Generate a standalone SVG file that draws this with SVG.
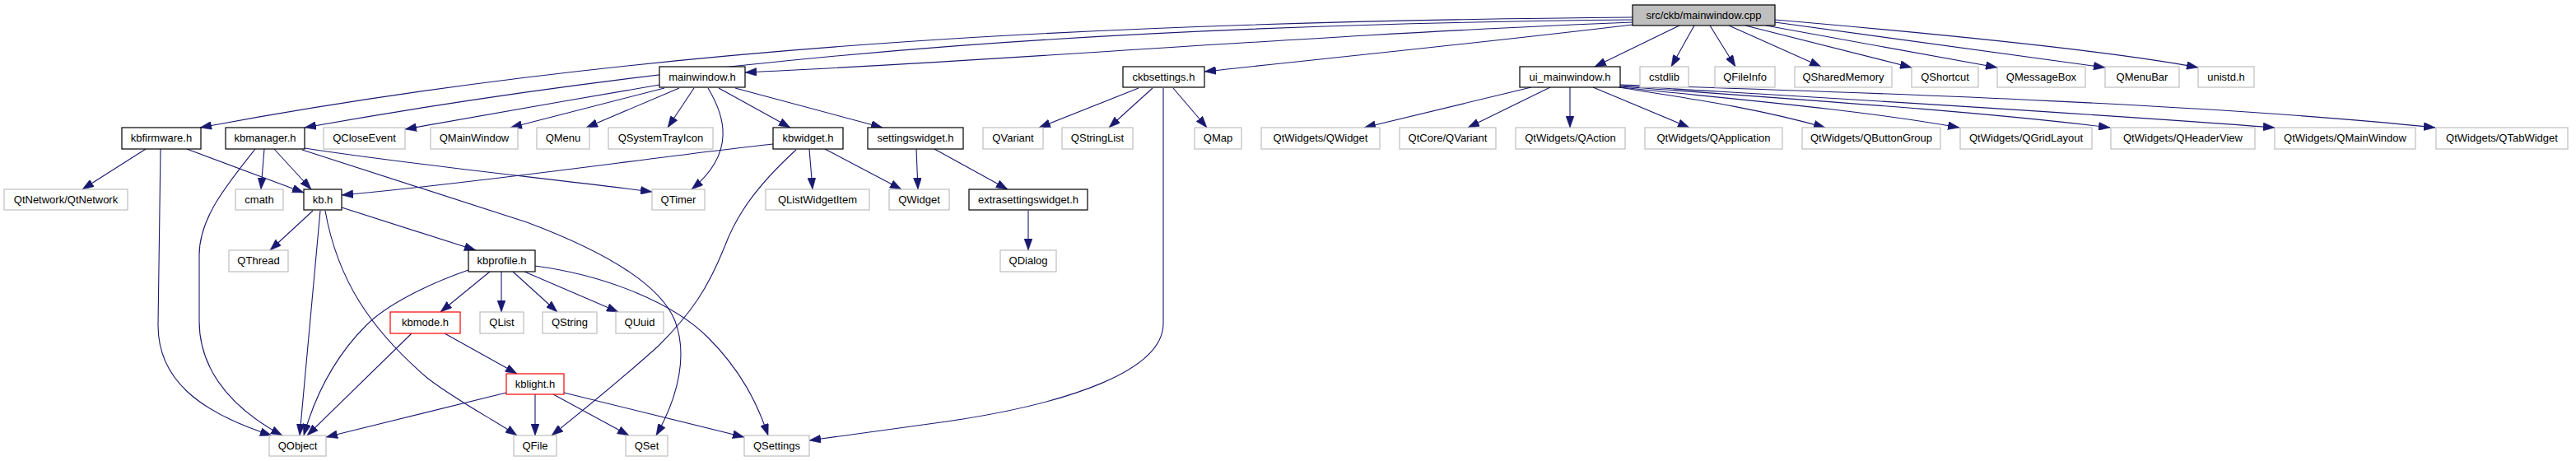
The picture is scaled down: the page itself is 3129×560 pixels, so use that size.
<svg xmlns="http://www.w3.org/2000/svg" width="3129" height="560" viewBox="0 0 3129 560">
<style>
.e{fill:none;stroke:#191970;stroke-width:1.1;marker-end:url(#ah)}
.n rect{fill:#fff;stroke:#000;stroke-width:1.2}
.g rect{fill:#fff;stroke:#bfbfbf;stroke-width:1.2}
.r rect{fill:#fff;stroke:#ff0000;stroke-width:1.2}
.root rect{fill:#bfbfbf;stroke:#000;stroke-width:1.2}
text{font-family:"Liberation Sans",Arial,Helvetica,sans-serif;font-size:13px;fill:#000;text-anchor:middle}
</style>
<defs>
<marker id="ah" markerUnits="userSpaceOnUse" markerWidth="14" markerHeight="10" viewBox="0 0 14 10" refX="14" refY="5" orient="auto">
<path d="M0,0 L14,5 L0,10 z" fill="#191970" stroke="#191970" stroke-width="0.5"/>
</marker>
</defs>
<rect x="0" y="0" width="3129" height="560" fill="#fff"/>
<g id="edges">
<path class="e" d="M1983,21 C1400,26 800,50 243,155"/>
<path class="e" d="M1983,24 C1400,30 900,60 370,155"/>
<path class="e" d="M1983,27 C1600,42 1200,75 905,88"/>
<path class="e" d="M1983,30 C1800,52 1600,72 1463,87"/>
<path class="e" d="M2040,31 L1937,81"/>
<path class="e" d="M2058,31 L2030,81"/>
<path class="e" d="M2077,31 L2108,81"/>
<path class="e" d="M2100,31 L2212,81"/>
<path class="e" d="M2120,31 L2322,82"/>
<path class="e" d="M2145,31 L2426,82"/>
<path class="e" d="M2156,27 L2557,82"/>
<path class="e" d="M2156,24 C2400,45 2580,65 2670,82"/>
<path class="e" d="M1860,106 L1657,155"/>
<path class="e" d="M1883,106 L1783,155"/>
<path class="e" d="M1907,106 L1907,155"/>
<path class="e" d="M1935,106 L2052,155"/>
<path class="e" d="M1966,106 C2040,118 2130,130 2217,155"/>
<path class="e" d="M1968,106 C2100,120 2250,132 2380,155"/>
<path class="e" d="M1968,105 C2200,122 2400,135 2563,155"/>
<path class="e" d="M1968,104 C2200,118 2500,135 2763,155"/>
<path class="e" d="M1968,103 C2300,113 2700,128 2958,155"/>
<path class="e" d="M801,103 C700,120 560,145 492,157"/>
<path class="e" d="M807,107 L620,155"/>
<path class="e" d="M825,107 L712,155"/>
<path class="e" d="M843,107 L811,155"/>
<path class="e" d="M860,107 C880,140 895,185 840,230"/>
<path class="e" d="M873,107 L960,155"/>
<path class="e" d="M893,107 L1072,155"/>
<path class="e" d="M939,175 C800,190 600,220 415,237"/>
<path class="e" d="M983,181 L987,230"/>
<path class="e" d="M1002,181 L1095,230"/>
<path class="e" d="M967,182 C920,225 895,260 880,300 C860,350 840,380 800,420 C750,465 700,505 670,529"/>
<path class="e" d="M1113,181 L1115,230"/>
<path class="e" d="M1135,181 L1224,230"/>
<path class="e" d="M1249,256 L1249,304"/>
<path class="e" d="M1383,107 L1262,155"/>
<path class="e" d="M1400,107 L1347,155"/>
<path class="e" d="M1425,107 L1466,155"/>
<path class="e" d="M1413,107 L1413,393 C1413,450 1300,490 1150,512 C1080,522 1020,530 983,535"/>
<path class="e" d="M177,181 L100,230"/>
<path class="e" d="M195,181 L192,395 C192,460 240,500 330,529"/>
<path class="e" d="M227,181 L369,234"/>
<path class="e" d="M321,181 L317,230"/>
<path class="e" d="M333,181 L378,230"/>
<path class="e" d="M310,181 C275,225 242,265 242,310 L242,390 C242,440 270,490 343,529"/>
<path class="e" d="M370,180 C500,200 650,215 792,233"/>
<path class="e" d="M367,182 L640,270 C720,300 800,340 820,390 C835,430 825,480 797,529"/>
<path class="e" d="M380,256 L328,304"/>
<path class="e" d="M389,256 L364,529"/>
<path class="e" d="M395,256 C410,340 450,400 520,460 C560,490 600,510 628,529"/>
<path class="e" d="M415,252 L578,304"/>
<path class="e" d="M569,328 C520,345 470,370 445,395 C400,440 380,490 369,529"/>
<path class="e" d="M595,330 L535,379"/>
<path class="e" d="M609,330 L609,379"/>
<path class="e" d="M623,330 L677,379"/>
<path class="e" d="M637,330 L751,379"/>
<path class="e" d="M650,323 C740,335 820,370 860,410 C900,450 920,490 933,529"/>
<path class="e" d="M540,405 L628,454"/>
<path class="e" d="M500,405 L373,529"/>
<path class="e" d="M615,477 L396,531"/>
<path class="e" d="M650,479 L650,529"/>
<path class="e" d="M672,479 L764,529"/>
<path class="e" d="M685,477 L904,531"/>
</g>
<g id="n_root" class="root"><rect x="1983" y="6" width="173" height="25"/><text x="2069.5" y="22.5">src/ckb/mainwindow.cpp</text></g>
<g id="n_mainwindow_h" class="n"><rect x="801" y="81" width="104" height="25"/><text x="853" y="97.5">mainwindow.h</text></g>
<g id="n_ckbsettings_h" class="n"><rect x="1364" y="81" width="99" height="25"/><text x="1413.5" y="97.5">ckbsettings.h</text></g>
<g id="n_ui_mainwindow_h" class="n"><rect x="1846" y="81" width="122" height="25"/><text x="1907" y="97.5">ui_mainwindow.h</text></g>
<g id="n_cstdlib" class="g"><rect x="1992" y="81" width="59" height="25"/><text x="2021.5" y="97.5">cstdlib</text></g>
<g id="n_QFileInfo" class="g"><rect x="2083" y="81" width="73" height="25"/><text x="2119.5" y="97.5">QFileInfo</text></g>
<g id="n_QSharedMemory" class="g"><rect x="2180" y="81" width="118" height="25"/><text x="2239" y="97.5">QSharedMemory</text></g>
<g id="n_QShortcut" class="g"><rect x="2322" y="81" width="81" height="25"/><text x="2362.5" y="97.5">QShortcut</text></g>
<g id="n_QMessageBox" class="g"><rect x="2426" y="81" width="107" height="25"/><text x="2479.5" y="97.5">QMessageBox</text></g>
<g id="n_QMenuBar" class="g"><rect x="2557" y="81" width="90" height="25"/><text x="2602" y="97.5">QMenuBar</text></g>
<g id="n_unistd_h" class="g"><rect x="2670" y="81" width="68" height="25"/><text x="2704" y="97.5">unistd.h</text></g>
<g id="n_kbfirmware_h" class="n"><rect x="148" y="155" width="96" height="26"/><text x="196" y="172">kbfirmware.h</text></g>
<g id="n_kbmanager_h" class="n"><rect x="274" y="155" width="96" height="26"/><text x="322" y="172">kbmanager.h</text></g>
<g id="n_QCloseEvent" class="g"><rect x="393" y="155" width="99" height="26"/><text x="442.5" y="172">QCloseEvent</text></g>
<g id="n_QMainWindow" class="g"><rect x="523" y="155" width="106" height="26"/><text x="576" y="172">QMainWindow</text></g>
<g id="n_QMenu" class="g"><rect x="652" y="155" width="64" height="26"/><text x="684" y="172">QMenu</text></g>
<g id="n_QSystemTrayIcon" class="g"><rect x="739" y="155" width="127" height="26"/><text x="802.5" y="172">QSystemTrayIcon</text></g>
<g id="n_kbwidget_h" class="n"><rect x="939" y="155" width="85" height="26"/><text x="981.5" y="172">kbwidget.h</text></g>
<g id="n_settingswidget_h" class="n"><rect x="1054" y="155" width="116" height="26"/><text x="1112" y="172">settingswidget.h</text></g>
<g id="n_QVariant" class="g"><rect x="1194" y="155" width="73" height="26"/><text x="1230.5" y="172">QVariant</text></g>
<g id="n_QStringList" class="g"><rect x="1290" y="155" width="86" height="26"/><text x="1333" y="172">QStringList</text></g>
<g id="n_QMap" class="g"><rect x="1451" y="155" width="57" height="26"/><text x="1479.5" y="172">QMap</text></g>
<g id="n_QtWidgets_QWidget" class="g"><rect x="1532" y="155" width="144" height="26"/><text x="1604" y="172">QtWidgets/QWidget</text></g>
<g id="n_QtCore_QVariant" class="g"><rect x="1700" y="155" width="117" height="26"/><text x="1758.5" y="172">QtCore/QVariant</text></g>
<g id="n_QtWidgets_QAction" class="g"><rect x="1841" y="155" width="133" height="26"/><text x="1907.5" y="172">QtWidgets/QAction</text></g>
<g id="n_QtWidgets_QApplication" class="g"><rect x="1998" y="155" width="167" height="26"/><text x="2081.5" y="172">QtWidgets/QApplication</text></g>
<g id="n_QtWidgets_QButtonGroup" class="g"><rect x="2189" y="155" width="168" height="26"/><text x="2273" y="172">QtWidgets/QButtonGroup</text></g>
<g id="n_QtWidgets_QGridLayout" class="g"><rect x="2381" y="155" width="160" height="26"/><text x="2461" y="172">QtWidgets/QGridLayout</text></g>
<g id="n_QtWidgets_QHeaderView" class="g"><rect x="2564" y="155" width="175" height="26"/><text x="2651.5" y="172">QtWidgets/QHeaderView</text></g>
<g id="n_QtWidgets_QMainWindow" class="g"><rect x="2763" y="155" width="171" height="26"/><text x="2848.5" y="172">QtWidgets/QMainWindow</text></g>
<g id="n_QtWidgets_QTabWidget" class="g"><rect x="2959" y="155" width="160" height="26"/><text x="3039" y="172">QtWidgets/QTabWidget</text></g>
<g id="n_QtNetwork" class="g"><rect x="5" y="230" width="150" height="25"/><text x="80" y="246.5">QtNetwork/QtNetwork</text></g>
<g id="n_cmath" class="g"><rect x="286" y="230" width="58" height="25"/><text x="315" y="246.5">cmath</text></g>
<g id="n_kb_h" class="n"><rect x="369" y="230" width="46" height="25"/><text x="392" y="246.5">kb.h</text></g>
<g id="n_QTimer" class="g"><rect x="792" y="230" width="64" height="25"/><text x="824" y="246.5">QTimer</text></g>
<g id="n_QListWidgetItem" class="g"><rect x="930" y="230" width="126" height="25"/><text x="993" y="246.5">QListWidgetItem</text></g>
<g id="n_QWidget" class="g"><rect x="1080" y="230" width="73" height="25"/><text x="1116.5" y="246.5">QWidget</text></g>
<g id="n_extrasettingswidget_h" class="n"><rect x="1177" y="230" width="144" height="25"/><text x="1249" y="246.5">extrasettingswidget.h</text></g>
<g id="n_QThread" class="g"><rect x="278" y="304" width="72" height="26"/><text x="314" y="321">QThread</text></g>
<g id="n_kbprofile_h" class="n"><rect x="569" y="304" width="81" height="26"/><text x="609.5" y="321">kbprofile.h</text></g>
<g id="n_QDialog" class="g"><rect x="1215" y="304" width="68" height="26"/><text x="1249" y="321">QDialog</text></g>
<g id="n_kbmode_h" class="r"><rect x="474" y="379" width="85" height="26"/><text x="516.5" y="396">kbmode.h</text></g>
<g id="n_QList" class="g"><rect x="583" y="379" width="53" height="26"/><text x="609.5" y="396">QList</text></g>
<g id="n_QString" class="g"><rect x="659" y="379" width="66" height="26"/><text x="692" y="396">QString</text></g>
<g id="n_QUuid" class="g"><rect x="748" y="379" width="58" height="26"/><text x="777" y="396">QUuid</text></g>
<g id="n_kblight_h" class="r"><rect x="615" y="454" width="70" height="25"/><text x="650" y="470.5">kblight.h</text></g>
<g id="n_QObject" class="g"><rect x="327" y="529" width="69" height="25"/><text x="361.5" y="545.5">QObject</text></g>
<g id="n_QFile" class="g"><rect x="624" y="529" width="52" height="25"/><text x="650" y="545.5">QFile</text></g>
<g id="n_QSet" class="g"><rect x="760" y="529" width="51" height="25"/><text x="785.5" y="545.5">QSet</text></g>
<g id="n_QSettings" class="g"><rect x="904" y="529" width="79" height="25"/><text x="943.5" y="545.5">QSettings</text></g>
</svg>
